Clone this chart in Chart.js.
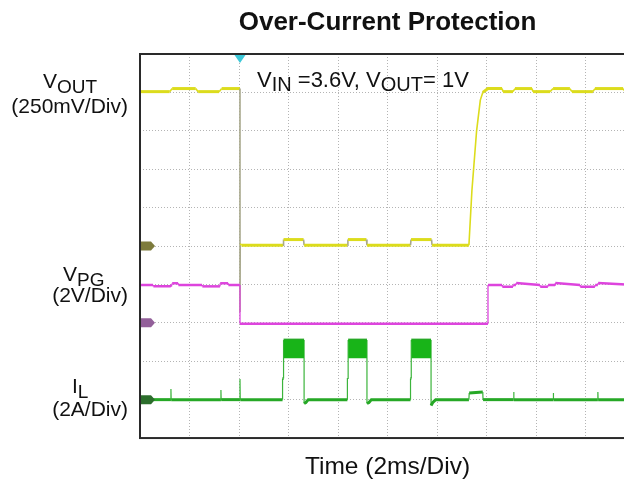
<!DOCTYPE html>
<html>
<head>
<meta charset="utf-8">
<script src="https://cdn.jsdelivr.net/npm/chart.js@4/dist/chart.umd.min.js"></script>
<style>
html,body{margin:0;padding:0;overflow:hidden;background:#fff;width:624px;height:481px}
#wrap{width:640px;height:481px}
</style>
</head>
<body>
<div id="wrap"><canvas id="c" width="640" height="481"></canvas></div>
<script>
const FONT = '"Liberation Sans", Arial, Helvetica, sans-serif';

// ---- text ----
const titleText = 'Over-Current Protection';
const xAxisTitle = 'Time (2ms/Div)';
const voutLabel = [['V', 0], ['OUT', 1]];
const voutScaleLabel = '(250mV/Div)';
const vpgLabel = [['V', 0], ['PG', 1]];
const vpgScaleLabel = '(2V/Div)';
const ilLabel = [['I', 0], ['L', 1]];
const ilScaleLabel = '(2A/Div)';
const conditionLabel = [['V', 0], ['IN', 1], [' =3.6V, V', 0], ['OUT', 1], ['= 1V', 0]];

// ---- scales (10 divisions each way) ----
const timeMin = 0, timeMax = 20, timeStep = 2;      // ms, 2 ms/div
const divMin = 0, divMax = 10;                      // vertical divisions
const voutMin = -1.25, voutMax = 1.25;              // V, 250 mV/div
const vpgMin = -6, vpgMax = 14;                     // V, 2 V/div
const ilMin = -2, ilMax = 18;                       // A, 2 A/div
const triggerTime = 4.04;                           // ms

// ---- VOUT trace (ms, V) ----
const voutTime  = [0, 1.2, 1.3, 2.25, 2.35, 3.2, 3.3, 4.04, 4.04, 4.05, 4.1,
  5.78, 5.8, 6.61, 6.63, 8.38, 8.4, 9.15, 9.17, 10.93, 10.95, 11.78, 11.8,
  13.29, 13.41, 13.6, 13.75, 13.85, 14.06, 14.63, 14.67, 15.07, 15.15, 15.84, 15.88,
  16.57, 16.69, 17.37, 17.45, 18.3, 18.38, 19.52, 19.6, 20];
const voutValue = [1.005, 1.005, 1.025, 1.025, 1.005, 1.005, 1.025, 1.025, -0.43, 0.015, 0.005,
  0.005, 0.042, 0.042, 0.005, 0.005, 0.042, 0.042, 0.005, 0.005, 0.042, 0.042, 0.005,
  0.005, 0.36, 0.75, 0.95, 1.0, 1.025, 1.025, 1.005, 1.005, 1.025, 1.025, 1.005,
  1.005, 1.025, 1.025, 1.005, 1.005, 1.025, 1.025, 1.005, 1.005];

// ---- VPG trace (ms, V) ----
const vpgTime  = [0, 0.53, 0.54, 1.21, 1.29, 1.3, 1.54, 1.55, 2.51, 2.52, 3.23, 3.24, 3.56, 3.57,
  4.04, 4.04, 14.06, 14.06, 14.63, 14.64, 15.07, 15.08, 15.19, 15.2, 16.16, 16.17, 16.48, 16.49,
  16.77, 16.78, 17.78, 17.79, 18.38, 18.39, 18.5, 18.51, 20];
const vpgValue = [1.97, 1.97, 1.9, 1.9, 1.97, 2.06, 2.06, 1.97, 1.97, 1.9, 1.9, 2.06, 2.06, 1.97,
  1.97, -0.05, -0.05, 1.97, 1.97, 1.88, 1.88, 1.97, 1.97, 2.07, 1.97, 1.88, 1.88, 1.97,
  1.97, 2.07, 1.97, 1.88, 1.88, 1.97, 1.97, 2.07, 1.97];

// ---- IL trace (ms, A) ----
const ilTime  = [0, 1.25, 1.25, 1.26, 3.27, 3.27, 3.28, 4.04, 4.04, 4.05,
  5.76, 5.76, 5.8, 5.8, 6.63, 6.63, 6.7, 6.8,
  8.38, 8.38, 8.41, 8.41, 9.17, 9.17, 9.25, 9.35,
  10.93, 10.93, 10.96, 10.96, 11.76, 11.76, 11.83, 11.95,
  13.29, 13.3, 13.85, 13.86, 15.1, 15.1, 15.11, 16.7, 16.7, 16.71, 18.5, 18.5, 18.51, 20];
const ilValue = [0, 0, 0.55, 0, 0, 0.5, 0, 0, 1.07, 0,
  0, 1.1, 1.1, 3.1, 3.1, -0.2, -0.15, 0,
  0, 1.1, 1.1, 3.1, 3.1, -0.2, -0.15, 0,
  0, 1.1, 1.1, 3.1, 3.1, -0.3, -0.15, 0,
  0, 0.35, 0.4, 0, 0, 0.4, 0, 0, 0.35, 0, 0, 0.4, 0, 0];

// ---- IL switching ripple band during current-limit pulses ----
const ilPulseStart = [5.8, 8.41, 10.96];
const ilPulseEnd   = [6.63, 9.17, 11.76];
const ilPulseTop = 3.1;
const ilPulseBottom = 2.15;

// ---- colours ----
const voutColor = '#dcdc1c';
const vpgColor = '#dd44dd';
const ilColor = '#26a826';
const ilBandColor = '#18b418';

const pts = (xs, ys) => xs.map((x, i) => ({x, y: ys[i]}));

function edgeStyle(thr, width, color) {
  return {
    borderWidth: c => Math.abs(c.p1.parsed.x - c.p0.parsed.x) < thr ? width : undefined,
    borderColor: c => (color && Math.abs(c.p1.parsed.x - c.p0.parsed.x) < 0.03) ? color : undefined
  };
}

const datasets = [];
ilPulseStart.forEach((s, i) => {
  datasets.push({
    label: 'IL ripple ' + (i + 1),
    data: [{x: s, y: ilPulseTop}, {x: ilPulseEnd[i], y: ilPulseTop}],
    yAxisID: 'yIl', borderWidth: 0, pointRadius: 0,
    backgroundColor: ilBandColor, fill: {value: ilPulseBottom}
  });
});
datasets.push({
  label: 'IL', data: pts(ilTime, ilValue), yAxisID: 'yIl',
  borderColor: ilColor, borderWidth: 3, pointRadius: 0, fill: false,
  segment: edgeStyle(0.03, 1.2, '#3cb43c')
});
datasets.push({
  label: 'VPG', data: pts(vpgTime, vpgValue), yAxisID: 'yVpg',
  borderColor: vpgColor, borderWidth: 2.5, pointRadius: 0, fill: false,
  segment: edgeStyle(0.03, 1.3, null)
});
datasets.push({
  label: 'VOUT', data: pts(voutTime, voutValue), yAxisID: 'yVout',
  borderColor: voutColor, borderWidth: 3, pointRadius: 0, fill: false,
  segment: edgeStyle(0.2, 1.6, '#a8a88c')
});

function drawRich(ctx, parts, x, y, align, size, subSize, subDrop) {
  const widths = parts.map(p => {
    ctx.font = (p[1] ? subSize : size) + 'px ' + FONT;
    return ctx.measureText(p[0]).width;
  });
  const total = widths.reduce((a, b) => a + b, 0);
  let cx = align === 'right' ? x - total : (align === 'center' ? x - total / 2 : x);
  ctx.textAlign = 'left';
  ctx.textBaseline = 'alphabetic';
  parts.forEach((p, i) => {
    ctx.font = (p[1] ? subSize : size) + 'px ' + FONT;
    ctx.fillText(p[0], cx, y + (p[1] ? subDrop : 0));
    cx += widths[i];
  });
}

const decorPlugin = {
  id: 'decor',
  afterDatasetsDraw(chart) {
    const {ctx, chartArea: a, scales} = chart;
    ctx.save();
    // frame
    ctx.strokeStyle = '#2a2a2a';
    ctx.lineWidth = 2;
    ctx.strokeRect(a.left, a.top, a.right - a.left, a.bottom - a.top);
    // channel ground markers
    const marks = [['yVout', '#7d7b3c'], ['yVpg', '#93609a'], ['yIl', '#2c6e2c']];
    marks.forEach(([id, col]) => {
      const y = scales[id].getPixelForValue(0);
      const x0 = a.left + 1;
      ctx.fillStyle = col;
      ctx.beginPath();
      ctx.moveTo(x0, y - 4.5);
      ctx.lineTo(x0 + 10, y - 4.5);
      ctx.lineTo(x0 + 14, y);
      ctx.lineTo(x0 + 10, y + 4.5);
      ctx.lineTo(x0, y + 4.5);
      ctx.closePath();
      ctx.fill();
    });
    // trigger marker
    const tx = scales.x.getPixelForValue(triggerTime);
    ctx.fillStyle = '#3cc8d8';
    ctx.beginPath();
    ctx.moveTo(tx - 5.5, a.top + 1);
    ctx.lineTo(tx + 5.5, a.top + 1);
    ctx.lineTo(tx, a.top + 9);
    ctx.closePath();
    ctx.fill();
    ctx.restore();
  },
  afterDraw(chart) {
    const {ctx, chartArea: a} = chart;
    ctx.save();
    ctx.fillStyle = '#111';
    drawRich(ctx, voutLabel, 43, 88, 'left', 21, 19, 4.5);
    drawRich(ctx, [[voutScaleLabel, 0]], 128, 113, 'right', 21, 19, 0);
    drawRich(ctx, vpgLabel, 63, 281, 'left', 21, 19, 4.5);
    drawRich(ctx, [[vpgScaleLabel, 0]], 128, 302, 'right', 21, 19, 0);
    drawRich(ctx, ilLabel, 72, 393, 'left', 21, 19, 4.5);
    drawRich(ctx, [[ilScaleLabel, 0]], 128, 416, 'right', 21, 19, 0);
    drawRich(ctx, conditionLabel, a.left + 117, 87, 'left', 22, 20, 4);
    ctx.restore();
  }
};

const gridCommon = {color: '#b4b4b4', lineWidth: 1, drawTicks: false};
const borderCommon = {display: false, dash: [1, 2]};

new Chart(document.getElementById('c'), {
  type: 'line',
  data: {datasets},
  options: {
    responsive: false,
    animation: false,
    layout: {padding: {left: 140, right: 5, top: 0, bottom: 0}},
    plugins: {
      legend: {display: false},
      tooltip: {enabled: false},
      title: {
        display: true, text: titleText, color: '#111',
        font: {family: FONT, size: 26, weight: 'bold', lineHeight: 1.2},
        padding: {top: 7, bottom: 15.8}
      }
    },
    scales: {
      x: {
        type: 'linear', min: timeMin, max: timeMax,
        ticks: {stepSize: timeStep, display: false},
        grid: gridCommon, border: borderCommon,
        title: {
          display: true, text: xAxisTitle, color: '#111',
          font: {family: FONT, size: 24.5, lineHeight: 1.1},
          padding: {top: 16, bottom: 0}
        }
      },
      y: {
        type: 'linear', position: 'left', min: divMin, max: divMax,
        ticks: {stepSize: 1, display: false},
        grid: gridCommon, border: borderCommon
      },
      yVout: {type: 'linear', display: false, min: voutMin, max: voutMax},
      yVpg: {type: 'linear', display: false, min: vpgMin, max: vpgMax},
      yIl: {type: 'linear', display: false, min: ilMin, max: ilMax}
    }
  },
  plugins: [decorPlugin]
});
</script>
</body>
</html>
